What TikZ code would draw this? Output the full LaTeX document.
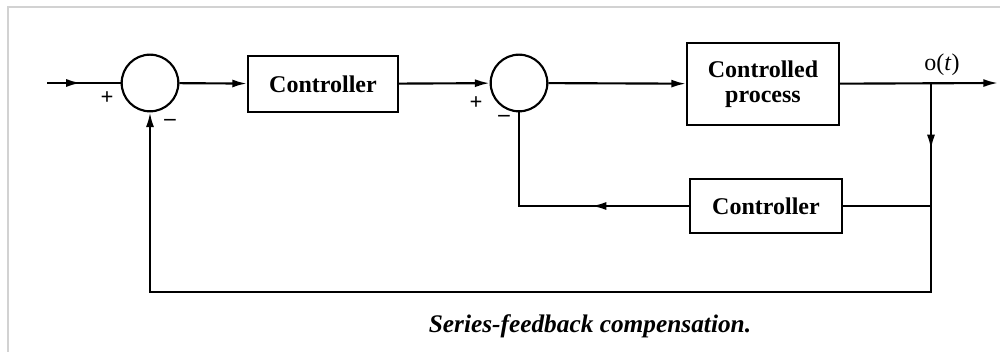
\documentclass[tikz,border=0pt]{standalone}
\usepackage{fontspec}
\setmainfont{Liberation Serif}
\usetikzlibrary{arrows.meta,decorations.markings}

\begin{document}
\begin{tikzpicture}[
    x=0.75pt, y=-0.75pt,
    line width=1.6pt,
    >={Latex[length=11pt,width=6pt]},
    block/.style={draw, line width=1.6pt, inner sep=0pt, align=center,
                  font=\fontsize{18}{19}\selectfont\bfseries},
    sumnode/.style={draw, circle, line width=1.6pt, minimum size=42.5pt, inner sep=0pt},
    sign/.style={font=\fontsize{17}{17}\selectfont\bfseries, inner sep=0pt},
    midarrow/.style={postaction={decorate}, decoration={markings,
                     mark=at position #1 with {\arrow{Latex[length=11pt,width=6pt]}}}}
]
\useasboundingbox (0,0) rectangle (1000,352);
\draw[gray!35, line width=0.8pt] (8,352) -- (8,7) -- (1000,7);

% forward path
\coordinate (in) at (47,83);
\node[sumnode] (sum1) at (150,83) {};
\node[block, minimum width=112.5pt, minimum height=42pt] (ctrl1) at (323,84) {Controller};
\node[sumnode] (sum2) at (519,83) {};
\node[block, minimum width=114pt, minimum height=61.5pt] (plant) at (763,84)
    {Controlled\\process};
\coordinate (branch) at (931,83);
\coordinate (out) at (998,83);
\node[font=\fontsize{18}{19}\selectfont, inner sep=0pt] (olbl) at (942,65) {o(\textit{t})};

% inner loop
\node[block, minimum width=114pt, minimum height=40.5pt] (ctrl2) at (766,206) {Controller};
\coordinate (fbmid) at (931,206);
\coordinate (inner) at (519,206);

% outer loop
\coordinate (fbright) at (931,292);
\coordinate (fbleft) at (150,292);

\node[sign] (p1) at (107,98) {+};
\node[sign] (m1) at (170,122) {–};
\node[sign] (p2) at (476,103) {+};
\node[sign] (m2) at (504,118) {–};

\draw[midarrow=0.46] (in) -- (sum1.west);
\draw[->] (sum1) -- (ctrl1);
\draw[->] (ctrl1) -- (sum2);
\draw[->] (sum2) -- (plant);
\draw[->] (plant) -- (out);
\draw[midarrow=0.54] (branch) -- (fbmid);
\draw (fbmid) -- (ctrl2);
\draw[midarrow=73pt] (ctrl2) -- (inner) -- (sum2);
\draw[->] (fbmid) -- (fbright) -- (fbleft) -- (sum1);

\node[font=\fontsize{19}{20}\selectfont\bfseries\itshape, anchor=base] (cap) at (590,333)
    {Series-feedback compensation.};
\end{tikzpicture}
\end{document}
